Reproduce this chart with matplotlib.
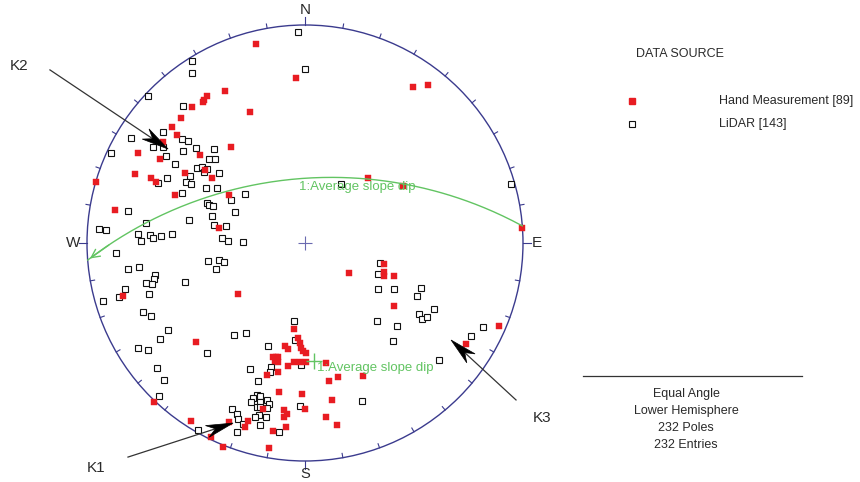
import numpy as np
import matplotlib
matplotlib.use("Agg")
import matplotlib.pyplot as plt
from matplotlib.patches import Circle, Polygon

plt.rcParams['font.family'] = ['Liberation Sans', 'DejaVu Sans']

# Poles (equal-angle, lower hemisphere); east / north in units of the net radius
lidar_east = [
    -0.032, -0.518, -0.518, 0.000, -0.720, -0.560, -0.651, -0.798, -0.564, -0.537,
    -0.697, -0.651, -0.500, -0.417, -0.560, -0.890, -0.638, -0.440, -0.413, -0.596,
    -0.495, -0.472, -0.450, -0.463, -0.394, -0.528, -0.633, -0.674, -0.546, -0.523,
    -0.454, -0.404, -0.564, -0.275, -0.339, -0.450, -0.440, -0.422, -0.812, -0.321,
    -0.427, -0.532, -0.729, -0.417, -0.362, -0.945, -0.913, -0.766, -0.711, -0.697,
    -0.661, -0.610, -0.752, -0.381, -0.353, -0.284, -0.867, -0.445, -0.394, -0.372,
    -0.408, -0.812, -0.761, -0.688, -0.693, -0.729, -0.702, -0.550, -0.826, -0.853,
    -0.716, -0.927, -0.743, -0.706, -0.628, -0.665, -0.326, -0.271, -0.450, -0.766,
    -0.720, -0.679, -0.647, -0.670, -0.335, -0.312, -0.307, -0.284, -0.312, -0.491,
    -0.220, -0.239, -0.206, -0.248, -0.206, -0.174, -0.220, -0.206, -0.165, -0.174,
    -0.211, -0.229, -0.179, -0.206, -0.023, -0.119, -0.050, -0.046, -0.170, -0.018,
    -0.156, -0.161, -0.252, -0.216, 0.165, 0.945, 0.344, 0.335, 0.335, 0.408,
    0.532, 0.514, 0.523, 0.537, 0.560, 0.592, 0.330, 0.422, 0.404, 0.817,
    0.761, 0.615, 0.261,
]
lidar_north = [
    0.968, 0.835, 0.780, 0.798, 0.674, 0.628, 0.509, 0.482, 0.477, 0.468,
    0.440, 0.440, 0.436, 0.431, 0.422, 0.413, 0.399, 0.385, 0.385, 0.362,
    0.344, 0.349, 0.339, 0.326, 0.321, 0.307, 0.298, 0.275, 0.280, 0.271,
    0.252, 0.252, 0.229, 0.225, 0.197, 0.183, 0.174, 0.170, 0.147, 0.142,
    0.124, 0.106, 0.092, 0.083, 0.078, 0.064, 0.060, 0.041, 0.037, 0.023,
    0.032, 0.041, 0.009, 0.023, 0.009, 0.005, -0.046, -0.083, -0.078, -0.087,
    -0.119, -0.119, -0.110, -0.147, -0.165, -0.183, -0.188, -0.179, -0.211, -0.248,
    -0.234, -0.266, -0.317, -0.335, -0.399, -0.440, -0.422, -0.413, -0.505, -0.482,
    -0.491, -0.573, -0.628, -0.702, -0.761, -0.784, -0.807, -0.830, -0.867, -0.858,
    -0.697, -0.711, -0.702, -0.729, -0.729, -0.720, -0.752, -0.752, -0.739, -0.757,
    -0.789, -0.798, -0.798, -0.835, -0.748, -0.867, -0.358, -0.445, -0.472, -0.560,
    -0.569, -0.592, -0.578, -0.633, 0.271, 0.271, -0.092, -0.142, -0.211, -0.211,
    -0.206, -0.243, -0.326, -0.349, -0.339, -0.303, -0.358, -0.381, -0.450, -0.385,
    -0.427, -0.537, -0.725,
]
hand_east = [
    -0.225, -0.041, -0.367, -0.450, -0.463, -0.468, -0.518, -0.252, -0.569, -0.610,
    -0.587, -0.651, -0.339, -0.766, -0.482, -0.665, -0.459, -0.550, -0.780, -0.706,
    -0.683, -0.427, -0.596, -0.349, -0.959, -0.872, -0.394, 0.495, 0.564, 0.289,
    0.450, 0.995, -0.307, -0.835, -0.500, -0.050, -0.092, -0.078, -0.032, -0.023,
    -0.018, -0.009, 0.005, -0.147, -0.133, -0.124, -0.138, -0.124, -0.050, -0.023,
    0.005, -0.078, -0.174, -0.124, -0.119, -0.014, 0.096, 0.110, 0.151, 0.124,
    0.096, 0.147, -0.193, 0.000, -0.096, -0.083, -0.096, -0.087, -0.147, -0.165,
    -0.349, -0.261, -0.275, -0.523, -0.431, -0.376, -0.693, 0.202, 0.362, 0.362,
    0.362, 0.408, 0.408, 0.890, 0.739, 0.266,
]
hand_north = [
    0.913, 0.757, 0.697, 0.674, 0.656, 0.647, 0.624, 0.601, 0.573, 0.532,
    0.495, 0.463, 0.440, 0.413, 0.404, 0.385, 0.335, 0.321, 0.317, 0.298,
    0.280, 0.298, 0.220, 0.220, 0.280, 0.151, 0.069, 0.716, 0.725, 0.298,
    0.261, 0.069, -0.234, -0.243, -0.454, -0.394, -0.472, -0.486, -0.436, -0.459,
    -0.482, -0.495, -0.505, -0.523, -0.523, -0.523, -0.541, -0.546, -0.546, -0.546,
    -0.546, -0.564, -0.606, -0.592, -0.683, -0.693, -0.550, -0.633, -0.615, -0.720,
    -0.798, -0.835, -0.761, -0.761, -0.766, -0.784, -0.798, -0.844, -0.862, -0.940,
    -0.821, -0.817, -0.844, -0.817, -0.890, -0.936, -0.729, -0.138, -0.096, -0.133,
    -0.151, -0.151, -0.289, -0.381, -0.463, -0.610,
]

# Mean slope plane (dip direction / dip, degrees)
slope_dip_direction = 355.5
slope_dip = 57.0
slope_label = "1:Average slope dip"

legend_title = "DATA SOURCE"
legend_labels = ["Hand Measurement [89]", "LiDAR [143]"]
info_lines = ["Equal Angle", "Lower Hemisphere", "232 Poles", "232 Entries"]

# Kinematic annotations: label, tail, tip, label position (net units)
k_arrows = [
    ("K2", (-1.170, 0.794), (-0.628, 0.431), (-1.312, 0.812)),
    ("K1", (-0.812, -0.982), (-0.330, -0.826), (-0.959, -1.032)),
    ("K3", (0.968, -0.720), (0.670, -0.445), (1.087, -0.803)),
]

# ---------------------------------------------------------------- layout
W, H = 860, 482
R_PX, CX, CY = 218.0, 305.0, 243.0
NET_COLOR = "#3b3b8e"
RED = "#e81c22"
GREEN = "#62c462"
TXT = "#2a2a2a"

fig = plt.figure(figsize=(W / 100, H / 100), dpi=100)
ax = fig.add_axes([0, 0, 1, 1])
ax.set_xlim(-CX / R_PX, (W - CX) / R_PX)
ax.set_ylim(-(H - CY) / R_PX, CY / R_PX)
ax.axis("off")


def fig_xy(px, py):
    return px / W, 1 - py / H


# primitive circle
ax.add_patch(Circle((0, 0), 1.0, fill=False, ec=NET_COLOR, lw=1.0, zorder=2))

# 10-degree ticks
for az in range(0, 360, 10):
    a = np.radians(az)
    s, c = np.sin(a), np.cos(a)
    if az % 90 == 0:
        r0, r1 = 1.0, 1.035
    elif c > 0:
        r0, r1 = 1.0, 1.02
    else:
        r0, r1 = 0.98, 1.0
    ax.plot([r0 * s, r1 * s], [r0 * c, r1 * c], color=NET_COLOR, lw=0.8, zorder=2)

for lab, az, rr, fs in [("N", 0, 1.07, 11), ("E", 90, 1.065, 11),
                        ("S", 180, 1.058, 10.5), ("W", 270, 1.062, 11)]:
    a = np.radians(az)
    ax.text(rr * np.sin(a), rr * np.cos(a), lab, ha="center", va="center",
            fontsize=fs, color=TXT)

# centre cross
ax.plot([0], [0], marker="+", ms=10, mew=0.8, color="#6a6ab0", zorder=2)


def great_circle(dd, dip, n=181):
    s = np.radians(dd - 90)
    d = np.radians(dd)
    dp = np.radians(dip)
    a = np.radians(np.linspace(0, 180, n))
    sv = np.array([np.sin(s), np.cos(s), 0.0])
    dv = np.array([np.sin(d) * np.cos(dp), np.cos(d) * np.cos(dp), np.sin(dp)])
    v = np.outer(np.cos(a), sv) + np.outer(np.sin(a), dv)
    plunge = np.arcsin(np.clip(v[:, 2], -1, 1))
    trend = np.arctan2(v[:, 0], v[:, 1])
    r = np.tan((np.pi / 2 - plunge) / 2)
    return r * np.sin(trend), r * np.cos(trend)


def project_line(trend_deg, plunge_deg):
    t = np.radians(trend_deg)
    r = np.tan(np.radians(90 - plunge_deg) / 2)
    return r * np.sin(t), r * np.cos(t)


# poles
ax.plot(lidar_east, lidar_north, ls="none", marker="s", ms=4.4, mfc="white",
        mec="#111111", mew=0.8, zorder=3)
ax.plot(hand_east, hand_north, ls="none", marker="s", ms=4.7, mfc=RED,
        mec=RED, mew=0.3, zorder=4)

# mean slope plane and its pole
gx, gy = great_circle(slope_dip_direction, slope_dip)
ax.plot(gx, gy, color=GREEN, lw=1.0, zorder=5)
ax.annotate("", xy=(gx[0], gy[0]), xytext=(gx[8], gy[8]),
            arrowprops=dict(arrowstyle="->,head_length=0.6,head_width=0.3",
                            color=GREEN, lw=1.0), zorder=5)
mid = len(gx) // 2          # the dip-direction point of the plane
ax.text(gx[mid] - 0.005, gy[mid] - 0.012, slope_label, ha="left", va="top",
        fontsize=9.5, color=GREEN, zorder=6)
px_, py_ = project_line(slope_dip_direction + 180, 90 - slope_dip)
ax.plot([px_], [py_], marker="+", ms=12, mew=1.0, color=GREEN, zorder=6)
ax.text(px_ + 0.012, py_ - 0.005, slope_label, ha="left", va="top",
        fontsize=9.5, color=GREEN, zorder=6)


# kinematic arrows
def stealth(tail, tip, length=0.124, half_w=0.028, notch=0.085):
    tail = np.asarray(tail)
    tip = np.asarray(tip)
    u = (tip - tail) / np.hypot(*(tip - tail))
    p = np.array([-u[1], u[0]])
    back = tip - length * u
    pts = [tip, back + half_w * p, tip - notch * u, back - half_w * p]
    return pts


for lab, tail, tip, lpos in k_arrows:
    pts = stealth(tail, tip)
    ax.plot([tail[0], pts[2][0]], [tail[1], pts[2][1]], color="#333333", lw=0.9, zorder=7)
    ax.add_patch(Polygon(pts, closed=True, fc="black", ec="black", lw=0.5, zorder=7))
    ax.text(lpos[0], lpos[1], lab, ha="center", va="center", fontsize=11, color=TXT)

# legend
fig.text(*fig_xy(636, 54), legend_title, ha="left", va="center", fontsize=9, color=TXT)
ax.plot(*fig_xy(632, 101), transform=fig.transFigure, marker="s", ms=4.4,
        mfc=RED, mec=RED, ls="none")
ax.plot(*fig_xy(632, 124), transform=fig.transFigure, marker="s", ms=3.8,
        mfc="white", mec="#111111", mew=0.8, ls="none")
fig.text(*fig_xy(719, 101), legend_labels[0], ha="left", va="center", fontsize=9, color=TXT)
fig.text(*fig_xy(719, 124), legend_labels[1], ha="left", va="center", fontsize=9, color=TXT)

# projection info block
x0, y0 = fig_xy(583, 376)
x1, _ = fig_xy(802, 376)
ax.plot([x0, x1], [y0, y0], transform=fig.transFigure, color="#333333", lw=0.9)
for i, line in enumerate(info_lines):
    fig.text(*fig_xy(686, 394 + 17 * i), line, ha="center", va="center",
             fontsize=9, color=TXT)

fig.savefig("out.png", dpi=100, facecolor="white")
